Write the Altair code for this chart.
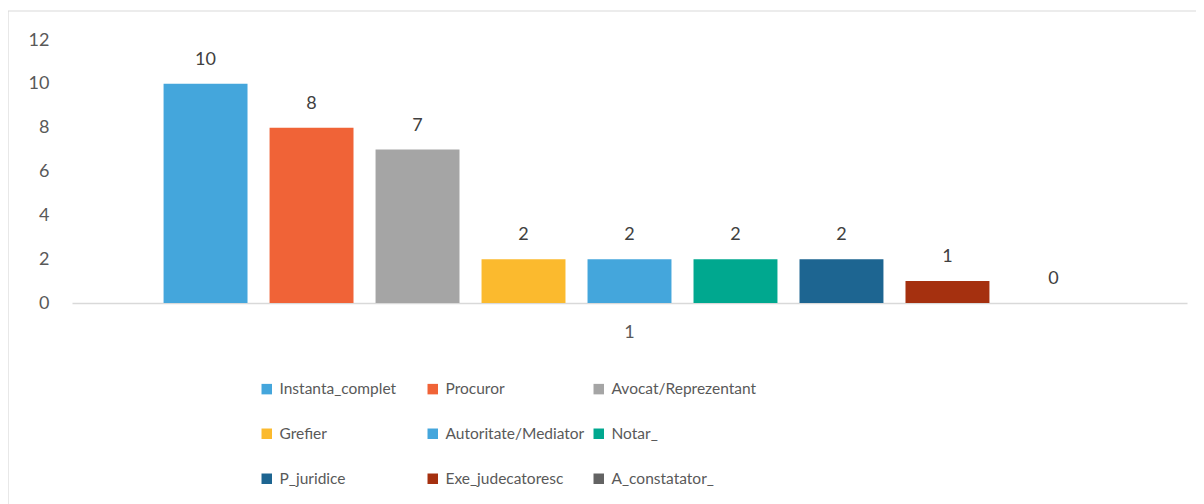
import altair as alt
import pandas as pd

series = ["Instanta_complet", "Procuror", "Avocat/Reprezentant", "Grefier",
          "Autoritate/Mediator", "Notar_", "P_juridice", "Exe_judecatoresc",
          "A_constatator_"]
values = [10, 8, 7, 2, 2, 2, 2, 1, 0]
colors = ["#44A6DC", "#F06337", "#A5A5A5", "#FBBA2E", "#44A6DC", "#00A88F",
          "#1D6591", "#A5300F", "#636363"]
category = ["1"] * len(series)
y_ticks = [0, 2, 4, 6, 8, 10, 12]

df = pd.DataFrame({"cat": category, "series": series, "value": values})

FONT = "Lato"
TXT = "#595959"

x_enc = alt.X("cat:N", title=None,
              scale=alt.Scale(paddingInner=0, paddingOuter=0),
              axis=alt.Axis(labelAngle=0, ticks=False, domainColor="#d9d9d9",
                            domainWidth=1.5, labelFontSize=18, labelColor=TXT,
                            labelFont=FONT, labelPadding=20))
xo_enc = alt.XOffset("series:N", sort=series,
                     scale=alt.Scale(paddingInner=0.208, paddingOuter=0.864))
y_enc = alt.Y("value:Q", title=None,
              scale=alt.Scale(domain=[0, 12], nice=False),
              axis=alt.Axis(values=y_ticks, grid=False, domain=False, ticks=False,
                            labelFontSize=18, labelColor=TXT, labelFont=FONT,
                            labelPadding=23))

bars = alt.Chart(df).mark_bar().encode(
    x=x_enc, xOffset=xo_enc, y=y_enc,
    color=alt.Color("series:N", sort=series,
                    scale=alt.Scale(domain=series, range=colors),
                    legend=alt.Legend(title=None, orient="none", legendX=187,
                                      legendY=341, columns=3, direction="horizontal",
                                      symbolType="square",
                                      symbolSize=110, symbolStrokeWidth=0,
                                      labelFontSize=15.5, labelColor=TXT,
                                      labelFont=FONT, gridAlign="all",
                                      columnPadding=-10, rowPadding=28,
                                      labelOffset=5, labelLimit=300))
)

labels = alt.Chart(df).mark_text(baseline="bottom", dy=-15, fontSize=18,
                                 color="#404040", font=FONT).encode(
    x=alt.X("cat:N"), xOffset=alt.XOffset("series:N", sort=series), y="value:Q",
    text="value:Q")

frame = alt.Chart(alt.Data(values=[{}])).mark_rect(
    fill="transparent", stroke="#d9d9d9", strokeWidth=1.2).encode(
    x=alt.value(-64), x2=alt.value(1140), y=alt.value(-29), y2=alt.value(480))

chart = alt.layer(frame, bars, labels).properties(
    width=1115, height=263,
    autosize=alt.AutoSizeParams(type="none"),
    padding={"left": 64, "top": 32, "right": 9, "bottom": 201},
).configure_view(stroke=None)

chart.save("out.html", embed_options={"renderer": "svg", "actions": False})
